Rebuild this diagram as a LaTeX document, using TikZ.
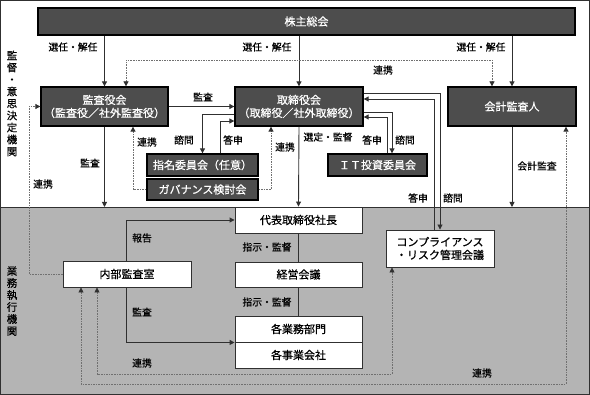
\documentclass[tikz,border=0pt]{standalone}
\usepackage{fontspec}
\newfontfamily\jp[FakeBold=0.6]{Noto Sans CJK JP}
\usetikzlibrary{arrows.meta}
\definecolor{darkfill}{HTML}{4D4D4D}
\definecolor{grayfill}{HTML}{B4B4B4}
\definecolor{dashcol}{HTML}{707070}
\definecolor{linecol}{HTML}{303030}
\tikzset{
  dbox/.style={draw=black, line width=1.3pt, fill=darkfill, text=white, inner sep=0pt, font=\jp\fontsize{11}{13}\selectfont, align=center},
  wbox/.style={draw=linecol, line width=0.9pt, fill=white, text=black, inner sep=0pt, font=\jp\fontsize{11}{13}\selectfont, align=center},
  arr/.style={draw=linecol, line width=0.9pt, -{Triangle[length=5pt,width=5pt]}},
  plain/.style={draw=linecol, line width=0.9pt},
  darr/.style={draw=dashcol, line width=0.8pt, dash pattern=on 1.6pt off 1pt},
  lbl/.style={font=\jp\fontsize{9.8}{11}\selectfont, text=black, inner sep=0pt},
  vlbl/.style={font=\jp\fontsize{10.5}{12}\selectfont, text=black, inner sep=0pt, align=center}
}
\begin{document}
\begin{tikzpicture}[x=1pt,y=-1pt]
\useasboundingbox (0,0) rectangle (590,395);
% background
\fill[white] (0,0) rectangle (590,395);
\fill[grayfill] (0,207) rectangle (590,395);
\draw[linecol, line width=0.8pt] (0,207) -- (590,207);
\draw[linecol, line width=1pt] (0.5,0.5) rectangle (589.5,394.5);

% side labels
\node[vlbl] (lblTop) at (12,103.5) {監\\督\\・\\意\\思\\決\\定\\機\\関};
\node[vlbl] (lblBot) at (12,301) {業\\務\\執\\行\\機\\関};

% boxes
\node[dbox, minimum width=537pt, minimum height=27pt] (sh) at (306.5,21.5) {株主総会};
\node[dbox, minimum width=127pt, minimum height=39pt] (kansa) at (104.5,106.5) {監査役会\\（監査役／社外監査役）};
\node[dbox, minimum width=128pt, minimum height=39pt] (tori) at (299,106.5) {取締役会\\（取締役／社外取締役）};
\node[dbox, minimum width=128pt, minimum height=39pt] (kaikei) at (512,106.5) {会計監査人};
\node[dbox, minimum width=111pt, minimum height=22pt] (shimei) at (202.5,165) {指名委員会（任意）};
\node[dbox, minimum width=111pt, minimum height=21pt] (gov) at (202.5,189.5) {ガバナンス検討会};
\node[dbox, minimum width=99pt, minimum height=22pt] (it) at (377.5,165) {ＩＴ投資委員会};

\node[wbox, minimum width=127pt, minimum height=26pt] (daihyo) at (298.5,220) {代表取締役社長};
\node[wbox, minimum width=127pt, minimum height=25pt] (keiei) at (298.5,274.5) {経営会議};
\node[wbox, minimum width=127pt, minimum height=26pt] (gyomu) at (298.5,329) {各業務部門};
\node[wbox, minimum width=127pt, minimum height=26pt] (jigyo) at (298.5,355) {各事業会社};
\node[wbox, minimum width=128pt, minimum height=26pt] (naibu) at (127,274) {内部監査室};
\node[wbox, minimum width=108pt, minimum height=37pt] (comp) at (440,248.5) {コンプライアンス\\・リスク管理会議};

% free ends on the boundary of the executive area
\coordinate (gK) at (104.5,207);
\coordinate (gA) at (512,207);

% shareholders
\draw[arr] (kansa.north |- sh.south) -- (kansa.north);
\draw[arr] (tori.north |- sh.south) -- (tori.north);
\draw[arr] (kaikei.north |- sh.south) -- (kaikei.north);
\node[lbl] at (73,47) {選任・解任};
\node[lbl] at (267,47) {選任・解任};
\node[lbl] at (481,47) {選任・解任};

% cooperation kansa - kaikei
\draw[darr, {Triangle[length=5pt,width=5pt,color=linecol]}-{Triangle[length=5pt,width=5pt,color=linecol]}]
  (kansa.north -| 126,0) -- (126,60) -| (kaikei.north -| 492,0);
\node[lbl] at (383,70) {連携};

% kansa -> tori
\draw[arr] (kansa.east) -- (kansa.east -| tori.west);
\node[lbl] at (203,97) {監査};

% tori <-> shimei
\draw[arr] (tori.west |- 0,114) -| (shimei.north);
\draw[arr] (shimei.north -| 220,0) |- (tori.west |- 0,121);
\node[lbl] at (184,140) {諮問};
\node[lbl] at (233,140) {答申};

% gov cooperation
\draw[darr, -{Triangle[length=5pt,width=5pt,color=linecol]}] (gov.west) -| (kansa.south -| 133,0);
\draw[darr, -{Triangle[length=5pt,width=5pt,color=linecol]}] (gov.east) -| (tori.south -| 271,0);
\node[lbl] at (147,142) {連携};
\node[lbl] at (285,147) {連携};

% kansa audit down
\draw[arr] (kansa.south) -- (gK);
\node[lbl] at (90,163) {監査};

% kansa <- naibu cooperation
\draw[darr, -{Triangle[length=5pt,width=5pt,color=linecol]}] (naibu.west) -| (kansa.west -| 29,0) -- (kansa.west);
\node[lbl] at (43,184) {連携};

% tori -> daihyo
\draw[arr] (tori.south) -- (daihyo.north);
\node[lbl] at (328,137) {選定・監督};

% tori <-> IT
\draw[arr] (tori.east |- 0,112) -| (it.north -| 392,0);
\draw[arr] (it.north -| 387,0) |- (tori.east |- 0,117);
\node[lbl] at (372,140) {答申};
\node[lbl] at (405,140) {諮問};

% tori <-> compliance
\draw[arr] (tori.east |- 0,93) -| (comp.north);
\draw[arr] (comp.north -| 434,0) |- (tori.east |- 0,99);
\node[lbl] at (418,198) {答申};
\node[lbl] at (453,198) {諮問};

% kaikei audit
\draw[arr] (kaikei.south) -- (gA);
\node[lbl] at (537,166) {会計監査};

% kaikei <-> naibu cooperation
\draw[darr, {Triangle[length=5pt,width=5pt,color=linecol]}-{Triangle[length=5pt,width=5pt,color=linecol]}]
  (naibu.south -| 81,0) -- (81,384) -| (kaikei.south -| 566,0);
\node[lbl] at (482,373) {連携};

% naibu <-> comp cooperation
\draw[darr, {Triangle[length=5pt,width=5pt,color=linecol]}-{Triangle[length=5pt,width=5pt,color=linecol]}]
  (naibu.south -| 97,0) -- (97,374) -| (comp.south -| 392,0);
\node[lbl] at (142,363) {連携};

% naibu report / audit
\draw[arr] (naibu.north -| 126,0) |- (daihyo.west);
\node[lbl] at (142,238) {報告};
\draw[arr] (naibu.south -| 126,0) |- (gyomu.south west);
\node[lbl] at (142,312) {監査};

% executive chain
\draw[plain] (daihyo.south) -- (keiei.north);
\draw[plain] (keiei.south) -- (gyomu.north);
\node[lbl] at (267,247) {指示・監督};
\node[lbl] at (267,302) {指示・監督};
\end{tikzpicture}
\end{document}
